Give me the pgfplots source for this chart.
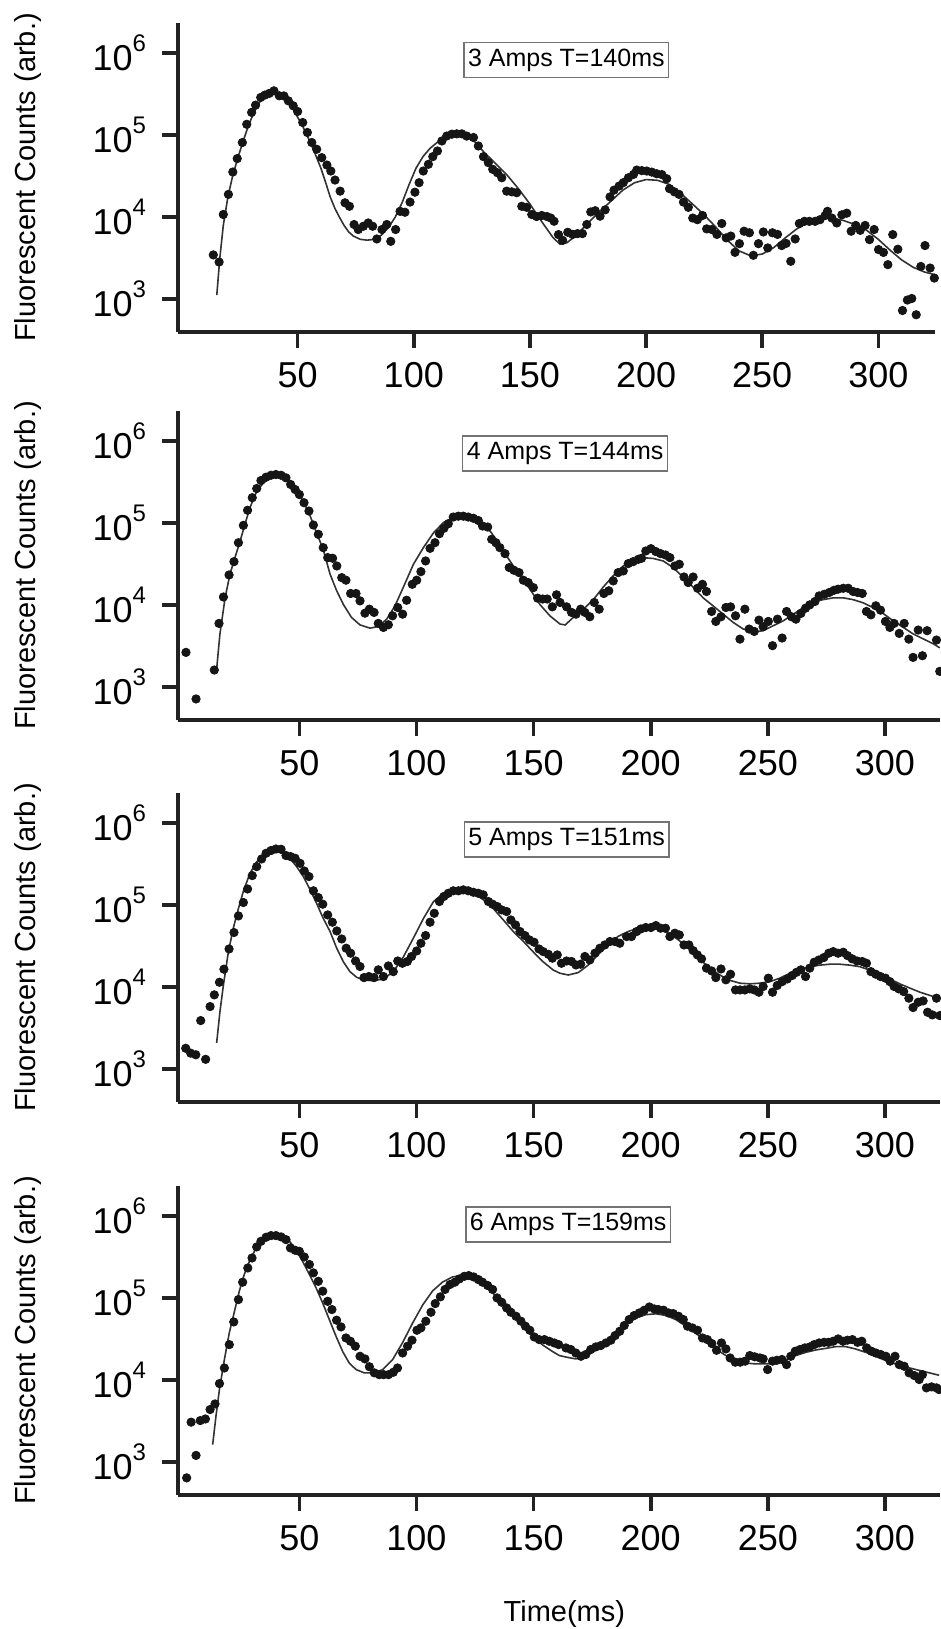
\documentclass[border=0pt]{standalone}
\usepackage{fontspec}
\setmainfont{Liberation Sans}
\usepackage{pgfplots}
\pgfplotsset{compat=1.18}

\definecolor{axcol}{HTML}{222222}
\definecolor{dotcol}{HTML}{151515}
\definecolor{fitcol}{HTML}{333333}
\newcommand{\tenp}[1]{10\raisebox{9.5pt}{\fontsize{12pt}{12pt}\selectfont #1}}

\begin{document}
\begin{tikzpicture}
\useasboundingbox (0,0) rectangle (470.5pt,-814.5pt);

% ---------------- Panel 1 ----------------
\begin{semilogyaxis}[scale only axis, height=154.5pt, ymin=398, ymax=2.34e6,
  axis x line*=bottom, axis y line*=left,
  axis line style={line width=2.2pt, draw=axcol},
  tick align=outside, major tick length=8pt,
  major tick style={line width=1.8pt, draw=axcol},
  minor tick style={draw=none},
  ytick={1e3,1e4,1e5,1e6},
  yticklabels={\tenp{3},\tenp{4},\tenp{5},\tenp{6}},
  xtick={50,100,150,200,250,300},
  xticklabels={50,100,150,200,250,300},
  tick label style={font=\fontsize{18pt}{18pt}\selectfont},
  yticklabel style={xshift=-4.5pt},
  xticklabel style={yshift=-3.6pt},
  ylabel={Fluorescent Counts (arb.)},
  ylabel style={at={(axis description cs:-0.1982,0.5)}, anchor=center, font=\fontsize{14.5pt}{14.5pt}\selectfont},
  clip=false,
  width=378.5pt, xmin=-1.5, xmax=324.4, at={(89pt,-166pt)}, anchor=south west]
\addplot[only marks, mark=*, mark size=2.1pt, color=dotcol] coordinates {
(13.7,3.47e3)(16.2,2.84e3)(18.0,1.08e4)(20.2,1.90e4)(22.1,3.56e4)(24.0,5.19e4)(26.2,8.15e4)(28.1,1.36e5)
(30.2,1.90e5)(31.9,2.33e5)(34.1,2.89e5)(35.9,3.09e5)(37.8,3.24e5)(39.8,3.48e5)(42.1,3.03e5)(44.1,3.02e5)
(46.0,2.63e5)(48.1,2.29e5)(50.0,1.95e5)(52.2,1.43e5)(54.2,1.08e5)(56.1,8.15e4)(58.2,6.75e4)(60.4,5.33e4)
(62.6,4.33e4)(64.3,3.66e4)(66.1,2.84e4)(68.3,2.08e4)(70.4,1.50e4)(72.3,1.36e4)(74.3,8.15e3)(76.1,7.08e3)
(78.3,7.76e3)(80.4,8.51e3)(82.3,7.76e3)(84.1,5.43e3)(86.3,7.08e3)(88.4,8.15e3)(90.1,5.08e3)(92.2,7.08e3)
(94.1,1.18e4)(96.2,1.15e4)(98.4,1.53e4)(100.5,2.02e4)(102.3,2.64e4)(104.1,3.66e4)(106.3,4.42e4)(108.2,5.48e4)
(110.2,6.43e4)(112.1,8.51e4)(114.2,9.79e4)(116.4,1.03e5)(118.5,1.04e5)(120.7,1.04e5)(122.8,9.77e4)(125.7,9.38e4)
(127.8,7.40e4)(130.0,5.48e4)(132.1,4.63e4)(134.0,3.84e4)(136.0,3.49e4)(137.9,3.03e4)(140.0,2.08e4)(142.2,2.04e4)
(144.3,1.99e4)(146.5,1.36e4)(148.6,1.32e4)(150.8,1.08e4)(152.9,1.02e4)(155.1,1.05e4)(157.3,1.02e4)(159.0,9.77e3)
(160.4,8.93e3)(162.3,6.14e3)(164.1,5.22e3)(166.3,6.55e3)(168.4,6.17e3)(170.5,6.31e3)(172.6,6.31e3)(174.5,8.15e3)
(176.2,1.16e4)(178.1,1.20e4)(180.2,1.03e4)(182.4,1.23e4)(184.5,1.77e4)(186.2,2.14e4)(188.4,2.40e4)(190.2,2.64e4)
(192.4,3.03e4)(194.6,3.33e4)(196.0,3.76e4)(198.2,3.70e4)(200.3,3.66e4)(202.5,3.55e4)(204.6,3.39e4)(206.8,3.31e4)
(208.9,2.95e4)(210.1,2.23e4)(212.2,2.04e4)(214.2,1.90e4)(216.1,1.53e4)(218.2,1.32e4)(220.1,9.77e3)(222.1,9.33e3)
(224.3,1.05e4)(226.1,7.21e3)(228.3,7.08e3)(230.5,6.17e3)(232.6,8.38e3)(234.5,5.60e3)(236.5,5.89e3)(238.3,3.73e3)
(240.2,4.76e3)(242.2,6.75e3)(244.5,6.46e3)(246.2,3.43e3)(248.4,4.76e3)(250.5,6.61e3)(252.4,4.22e3)(254.4,6.46e3)
(256.6,6.17e3)(258.4,4.51e3)(260.3,4.79e3)(262.3,2.90e3)(264.2,5.43e3)(266.0,8.38e3)(268.2,8.91e3)(270.3,8.91e3)
(272.8,8.91e3)(274.9,9.33e3)(277.1,1.05e4)(278.1,1.18e4)(280.0,9.77e3)(282.1,8.51e3)(284.3,1.07e4)(286.4,1.12e4)
(288.3,6.75e3)(290.3,7.94e3)(292.2,6.92e3)(294.3,7.94e3)(296.2,5.33e3)(298.2,7.08e3)(300.1,4.03e3)(302.2,3.72e3)
(304.1,2.64e3)(306.2,6.14e3)(308.4,4.07e3)(310.4,7.28e2)(312.5,9.77e2)(314.4,1.02e3)(316.3,6.46e2)(318.3,2.51e3)
(320.1,4.51e3)(322.3,2.40e3)(324.1,1.81e3)
};
\addplot[no marks, line width=0.8pt, color=fitcol] coordinates {
(15.2,1.12e3)(16.5,3.16e3)(18,7.94e3)(20,1.78e4)(22,3.16e4)(24,5.01e4)(26,7.59e4)(28,1.12e5)(30,1.58e5)
(32,2.09e5)(34,2.63e5)(36,3.02e5)(38,3.31e5)(40,3.39e5)(42,3.24e5)(44,2.88e5)(46,2.51e5)(48,2.09e5)
(50,1.66e5)(52,1.32e5)(54,1.00e5)(56,7.59e4)(58,5.50e4)(60,3.98e4)(62,2.69e4)(64,1.78e4)(66,1.29e4)
(68,1.00e4)(70,7.94e3)(72,6.61e3)(74,5.89e3)(77,5.37e3)(80,5.25e3)(83,5.37e3)(86,6.03e3)(89,7.41e3)
(92,1.00e4)(95,1.51e4)(98,2.51e4)(101,3.98e4)(104,5.50e4)(107,6.92e4)(110,8.13e4)(114,9.33e4)(118,1.00e5)
(122,9.77e4)(126,8.51e4)(130,6.31e4)(135,4.57e4)(140,3.31e4)(145,2.24e4)(150,1.45e4)(155,8.91e3)(160,5.62e3)
(163,4.68e3)(166,4.90e3)(170,6.03e3)(175,8.51e3)(180,1.17e4)(185,1.58e4)(190,2.14e4)(195,2.63e4)(200,2.88e4)
(205,2.82e4)(210,2.51e4)(215,1.95e4)(220,1.45e4)(225,1.07e4)(230,7.59e3)(235,5.25e3)(240,3.89e3)(245,3.39e3)
(250,3.55e3)(255,4.27e3)(260,5.62e3)(265,7.24e3)(270,8.71e3)(275,9.55e3)(280,9.77e3)(285,9.12e3)(290,8.13e3)
(295,6.92e3)(300,5.37e3)(305,3.98e3)(310,3.02e3)(315,2.45e3)(320,2.14e3)(324,2.00e3)
};
\node[draw=black!55, line width=0.7pt, fill=white, inner xsep=2pt, inner ysep=0pt, minimum height=17.5pt, font=\fontsize{12.5pt}{12.5pt}\selectfont] at (rel axis cs:0.513,0.880) {3 Amps T=140ms};
\end{semilogyaxis}

% ---------------- Panel 2 ----------------
\begin{semilogyaxis}[scale only axis, height=154.5pt, ymin=398, ymax=2.34e6,
  axis x line*=bottom, axis y line*=left,
  axis line style={line width=2.2pt, draw=axcol},
  tick align=outside, major tick length=8pt,
  major tick style={line width=1.8pt, draw=axcol},
  minor tick style={draw=none},
  ytick={1e3,1e4,1e5,1e6},
  yticklabels={\tenp{3},\tenp{4},\tenp{5},\tenp{6}},
  xtick={50,100,150,200,250,300},
  xticklabels={50,100,150,200,250,300},
  tick label style={font=\fontsize{18pt}{18pt}\selectfont},
  yticklabel style={xshift=-4.5pt},
  xticklabel style={yshift=-3.6pt},
  ylabel={Fluorescent Counts (arb.)},
  ylabel style={at={(axis description cs:-0.1969,0.5)}, anchor=center, font=\fontsize{14.5pt}{14.5pt}\selectfont},
  clip=false,
  width=381pt, xmin=-1.8, xmax=323.5, at={(89pt,-360pt)}, anchor=south west]
\addplot[only marks, mark=*, mark size=2.1pt, color=dotcol] coordinates {
(1.6,2.66e3)(5.9,7.19e2)(13.7,1.62e3)(15.7,6.00e3)(17.6,1.26e4)(20.0,2.34e4)(22.1,3.40e4)(24.0,5.79e4)
(26.1,9.42e4)(27.9,1.44e5)(29.9,2.05e5)(31.8,2.65e5)(33.6,3.32e5)(35.8,3.65e5)(37.9,3.85e5)(40.0,3.93e5)
(42.2,3.85e5)(44.3,3.58e5)(46.3,2.97e5)(48.2,2.58e5)(50.0,2.24e5)(52.0,1.78e5)(54.1,1.41e5)(56.0,9.51e4)
(58.1,7.33e4)(60.2,5.04e4)(62.1,3.81e4)(64.2,3.74e4)(66.0,3.01e4)(68.1,2.17e4)(69.9,2.02e4)(71.9,1.39e4)
(74.2,1.39e4)(75.9,1.13e4)(78.0,8.00e3)(79.9,8.95e3)(81.9,8.17e3)(83.7,6.00e3)(85.9,5.36e3)(88.0,5.78e3)
(89.8,7.43e3)(92.0,9.38e3)(94.1,7.78e3)(95.8,1.15e4)(98.2,1.80e4)(100.1,2.02e4)(101.9,2.57e4)(103.9,3.47e4)
(105.8,4.94e4)(107.9,5.79e4)(109.8,7.46e4)(111.7,8.67e4)(113.6,9.86e4)(115.7,1.19e5)(117.9,1.22e5)(120.0,1.22e5)
(122.1,1.19e5)(124.3,1.15e5)(126.4,1.08e5)(128.2,9.25e4)(130.4,8.99e4)(132.1,6.37e4)(133.9,5.79e4)(135.6,5.04e4)
(137.8,4.26e4)(139.6,2.88e4)(141.6,2.67e4)(143.8,2.50e4)(145.6,2.02e4)(147.7,1.89e4)(149.9,1.64e4)(151.7,1.22e4)
(153.9,1.19e4)(155.8,1.19e4)(158.0,9.55e3)(159.8,1.34e4)(161.3,1.08e4)(164.1,9.55e3)(166.2,8.17e3)(168.1,7.78e3)
(170.1,8.95e3)(171.9,8.17e3)(174.0,7.23e3)(175.9,1.08e4)(178.0,8.95e3)(180.0,1.39e4)(182.1,1.50e4)(184.0,1.98e4)
(186.1,2.50e4)(188.3,2.62e4)(190.4,3.22e4)(192.5,3.40e4)(194.7,3.63e4)(196.1,3.74e4)(197.9,4.59e4)(200.1,4.90e4)
(202.2,4.51e4)(204.2,4.26e4)(206.3,4.10e4)(208.2,3.81e4)(210.3,3.01e4)(212.2,3.16e4)(214.2,2.21e4)(216.0,1.89e4)
(218.1,2.21e4)(220.0,1.61e4)(222.1,1.80e4)(223.8,1.47e4)(226.0,8.39e3)(227.8,6.34e3)(230.0,7.23e3)(232.1,9.38e3)
(234.1,9.55e3)(236.2,7.43e3)(238.1,3.86e3)(240.2,8.95e3)(242.0,5.12e3)(244.2,4.79e3)(246.2,6.58e3)(248.0,5.46e3)
(250.2,6.34e3)(252.0,3.21e3)(254.1,6.76e3)(256.1,3.98e3)(258.0,8.39e3)(260.1,7.23e3)(262.0,6.76e3)(264.1,7.94e3)
(266.1,9.20e3)(267.9,1.01e4)(270.1,1.11e4)(271.9,1.30e4)(274.1,1.36e4)(276.2,1.43e4)(278.2,1.52e4)(280.0,1.57e4)
(282.2,1.61e4)(284.3,1.61e4)(286.4,1.47e4)(288.3,1.43e4)(290.3,1.39e4)(292.1,8.39e3)(294.0,7.64e3)(296.1,9.84e3)
(298.1,8.71e3)(300.2,6.34e3)(302.1,5.36e3)(303.9,6.00e3)(306.1,4.53e3)(308.2,6.00e3)(310.2,3.86e3)(312.0,2.31e3)
(314.2,4.98e3)(316.0,2.42e3)(318.0,4.89e3)(322.0,3.76e3)(323.4,1.56e3)
};
\addplot[no marks, line width=0.8pt, color=fitcol] coordinates {
(14.7,1.66e3)(16.1,4.47e3)(18.3,1.23e4)(20.4,2.40e4)(22.5,3.80e4)(24.7,6.03e4)(26.8,9.77e4)(28.9,1.55e5)
(31.8,2.45e5)(34.6,3.09e5)(37.5,3.55e5)(40.3,3.72e5)(43.2,3.55e5)(46.0,3.09e5)(48.9,2.45e5)(51.7,1.86e5)
(54.6,1.23e5)(57.4,7.59e4)(60.2,4.79e4)(63.1,2.40e4)(65.9,1.51e4)(68.8,1.02e4)(72.3,7.08e3)(75.9,5.75e3)
(80.2,5.25e3)(83.7,5.50e3)(87.3,6.76e3)(90.8,9.77e3)(94.4,1.66e4)(98.7,3.16e4)(102.9,5.01e4)(107.2,7.59e4)
(111.5,1.02e5)(115.7,1.17e5)(120.0,1.23e5)(124.3,1.17e5)(128.5,9.77e4)(132.1,7.59e4)(135.6,5.25e4)(139.9,3.47e4)
(144.2,2.29e4)(148.4,1.58e4)(152.7,1.02e4)(157.0,7.41e3)(161.3,5.89e3)(163.5,5.75e3)(166.9,7.08e3)(171.2,8.91e3)
(175.5,1.17e4)(179.7,1.66e4)(184.0,2.29e4)(188.3,3.02e4)(192.5,3.55e4)(196.8,3.80e4)(201.1,3.72e4)(205.3,3.47e4)
(209.6,2.88e4)(213.9,2.19e4)(218.1,1.66e4)(222.4,1.23e4)(226.7,9.77e3)(231.0,7.76e3)(235.2,6.17e3)(239.5,5.13e3)
(243.8,4.68e3)(248.0,4.90e3)(252.3,5.62e3)(256.6,6.46e3)(260.8,7.76e3)(265.1,9.33e3)(269.4,1.10e4)(273.6,1.17e4)
(277.9,1.23e4)(282.2,1.23e4)(286.4,1.17e4)(290.7,1.07e4)(295.0,9.33e3)(299.2,7.94e3)(303.5,6.46e3)(307.8,5.37e3)
(312.0,4.47e3)(316.3,3.89e3)(320.6,3.39e3)(323.4,3.02e3)
};
\node[draw=black!55, line width=0.7pt, fill=white, inner xsep=2pt, inner ysep=0pt, minimum height=17.5pt, font=\fontsize{12.5pt}{12.5pt}\selectfont] at (rel axis cs:0.508,0.862) {4 Amps T=144ms};
\end{semilogyaxis}

% ---------------- Panel 3 ----------------
\begin{semilogyaxis}[scale only axis, height=154.5pt, ymin=398, ymax=2.34e6,
  axis x line*=bottom, axis y line*=left,
  axis line style={line width=2.2pt, draw=axcol},
  tick align=outside, major tick length=8pt,
  major tick style={line width=1.8pt, draw=axcol},
  minor tick style={draw=none},
  ytick={1e3,1e4,1e5,1e6},
  yticklabels={\tenp{3},\tenp{4},\tenp{5},\tenp{6}},
  xtick={50,100,150,200,250,300},
  xticklabels={50,100,150,200,250,300},
  tick label style={font=\fontsize{18pt}{18pt}\selectfont},
  yticklabel style={xshift=-4.5pt},
  xticklabel style={yshift=-3.6pt},
  ylabel={Fluorescent Counts (arb.)},
  ylabel style={at={(axis description cs:-0.1969,0.5)}, anchor=center, font=\fontsize{14.5pt}{14.5pt}\selectfont},
  clip=false,
  width=381pt, xmin=-1.8, xmax=323.5, at={(89pt,-551pt)}, anchor=south west]
\addplot[only marks, mark=*, mark size=2.1pt, color=dotcol] coordinates {
(1.5,1.80e3)(3.6,1.57e3)(5.8,1.50e3)(7.9,3.92e3)(10.0,1.32e3)(11.9,5.81e3)(13.7,8.07e3)(15.9,1.15e4)
(17.8,1.66e4)(20.0,2.93e4)(22.1,4.65e4)(24.0,7.41e4)(26.1,1.08e5)(27.9,1.58e5)(29.9,2.30e5)(31.8,2.96e5)
(33.9,3.67e5)(35.8,4.31e5)(37.9,4.65e5)(40.0,4.86e5)(42.2,4.82e5)(44.3,4.04e5)(46.3,3.92e5)(48.2,3.74e5)
(50.3,3.25e5)(52.1,2.62e5)(54.1,2.24e5)(56.0,1.50e5)(58.1,1.24e5)(60.0,1.03e5)(62.1,7.62e4)(64.1,6.21e4)
(66.0,4.86e4)(68.1,3.88e4)(70.0,2.99e4)(71.9,2.60e4)(74.0,2.09e4)(75.9,1.79e4)(77.6,1.31e4)(79.7,1.35e4)
(81.9,1.31e4)(83.7,1.63e4)(85.9,1.35e4)(88.0,1.82e4)(90.1,1.55e4)(92.0,2.09e4)(94.0,1.96e4)(96.1,2.06e4)
(97.9,2.37e4)(100.1,2.77e4)(101.9,3.44e4)(103.9,4.27e4)(105.8,6.21e4)(107.6,7.98e4)(109.8,1.11e5)(111.7,1.28e5)
(113.6,1.40e5)(115.7,1.50e5)(117.9,1.50e5)(120.0,1.54e5)(122.1,1.50e5)(124.3,1.44e5)(126.4,1.40e5)(128.5,1.34e5)
(130.7,1.11e5)(132.5,1.03e5)(134.5,9.64e4)(136.4,8.77e4)(138.5,8.38e4)(140.3,6.62e4)(142.3,5.75e4)(144.2,4.78e4)
(146.3,4.27e4)(148.2,3.78e4)(150.2,3.54e4)(152.3,2.93e4)(154.1,2.72e4)(156.3,2.52e4)(158.0,2.26e4)(160.1,2.48e4)
(161.9,1.96e4)(164.1,2.09e4)(166.2,2.06e4)(168.1,1.87e4)(170.1,1.91e4)(171.9,2.37e4)(174.0,2.15e4)(176.2,2.60e4)
(178.3,2.99e4)(180.4,3.28e4)(182.6,3.61e4)(184.7,3.61e4)(186.8,3.44e4)(189.7,4.15e4)(191.8,4.15e4)(194.0,4.78e4)
(195.8,5.14e4)(197.9,5.35e4)(200.1,5.35e4)(202.2,5.65e4)(204.2,5.25e4)(206.3,5.25e4)(208.2,4.15e4)(210.3,4.56e4)
(212.2,4.35e4)(214.2,3.28e4)(216.3,3.28e4)(218.1,2.80e4)(219.9,2.48e4)(221.7,2.22e4)(223.8,1.71e4)(226.0,1.58e4)
(227.8,1.31e4)(230.0,1.67e4)(232.1,1.23e4)(234.1,1.44e4)(236.2,9.27e3)(238.1,9.27e3)(240.2,9.27e3)(242.3,9.55e3)
(244.2,9.27e3)(246.2,8.69e3)(248.0,1.02e4)(250.2,1.29e4)(252.0,8.69e3)(254.0,1.05e4)(256.1,1.17e4)(258.3,1.26e4)
(260.4,1.39e4)(262.2,1.52e4)(264.1,1.63e4)(266.1,1.35e4)(267.9,1.71e4)(269.8,2.02e4)(271.8,2.15e4)(273.9,2.30e4)
(276.0,2.60e4)(277.9,2.72e4)(280.0,2.60e4)(282.2,2.67e4)(284.0,2.43e4)(286.0,2.22e4)(288.1,2.09e4)(290.3,2.06e4)
(292.1,1.96e4)(294.0,1.55e4)(296.1,1.44e4)(298.1,1.35e4)(300.2,1.29e4)(302.1,1.17e4)(303.9,1.02e4)(305.9,9.55e3)
(308.0,8.85e3)(310.2,7.35e3)(312.0,5.65e3)(314.2,6.56e3)(316.3,6.81e3)(318.2,4.95e3)(320.2,4.60e3)(322.0,7.35e3)
(323.4,4.51e3)
};
\addplot[no marks, line width=0.8pt, color=fitcol] coordinates {
(14.7,2.09e3)(16.1,5.01e3)(17.6,1.07e4)(19.7,2.69e4)(21.8,5.25e4)(24.0,9.12e4)(26.1,1.48e5)(28.9,2.45e5)
(31.8,3.39e5)(34.6,4.07e5)(37.5,4.47e5)(40.3,4.57e5)(43.2,4.27e5)(46.0,3.72e5)(48.9,2.95e5)(51.7,2.24e5)
(54.6,1.55e5)(57.4,1.05e5)(60.2,6.92e4)(63.1,4.79e4)(65.9,3.02e4)(68.8,2.04e4)(71.6,1.55e4)(74.5,1.32e4)
(77.3,1.23e4)(81.6,1.20e4)(85.9,1.26e4)(90.1,1.55e4)(94.4,2.34e4)(98.7,3.98e4)(103.0,6.92e4)(107.2,1.10e5)
(111.5,1.41e5)(115.7,1.55e5)(120.0,1.55e5)(124.3,1.41e5)(128.5,1.17e5)(132.8,9.12e4)(137.1,6.61e4)(141.3,4.79e4)
(145.6,3.63e4)(149.9,2.69e4)(154.1,2.04e4)(158.4,1.62e4)(161.3,1.48e4)(164.8,1.41e4)(169.1,1.51e4)(173.3,1.86e4)
(177.6,2.51e4)(181.9,3.31e4)(186.1,4.17e4)(190.4,4.79e4)(194.7,5.25e4)(198.9,5.37e4)(203.2,5.13e4)(207.5,4.57e4)
(211.7,3.80e4)(216.0,3.02e4)(220.3,2.29e4)(224.5,1.78e4)(228.8,1.45e4)(233.1,1.23e4)(238.1,1.12e4)(242.3,1.10e4)
(246.6,1.12e4)(250.9,1.17e4)(255.1,1.29e4)(259.4,1.48e4)(263.7,1.66e4)(267.9,1.78e4)(272.2,1.86e4)(276.5,1.91e4)
(280.7,1.91e4)(285.0,1.86e4)(289.3,1.78e4)(293.5,1.62e4)(297.8,1.45e4)(302.1,1.26e4)(306.3,1.10e4)(310.6,9.77e3)
(314.9,8.71e3)(319.2,7.94e3)(323.4,7.24e3)
};
\node[draw=black!55, line width=0.7pt, fill=white, inner xsep=2pt, inner ysep=0pt, minimum height=17.5pt, font=\fontsize{12.5pt}{12.5pt}\selectfont] at (rel axis cs:0.510,0.850) {5 Amps T=151ms};
\end{semilogyaxis}

% ---------------- Panel 4 ----------------
\begin{semilogyaxis}[scale only axis, height=154.5pt, ymin=398, ymax=2.34e6,
  axis x line*=bottom, axis y line*=left,
  axis line style={line width=2.2pt, draw=axcol},
  tick align=outside, major tick length=8pt,
  major tick style={line width=1.8pt, draw=axcol},
  minor tick style={draw=none},
  ytick={1e3,1e4,1e5,1e6},
  yticklabels={\tenp{3},\tenp{4},\tenp{5},\tenp{6}},
  xtick={50,100,150,200,250,300},
  xticklabels={50,100,150,200,250,300},
  tick label style={font=\fontsize{18pt}{18pt}\selectfont},
  yticklabel style={xshift=-4.5pt},
  xticklabel style={yshift=-3.6pt},
  ylabel={Fluorescent Counts (arb.)},
  ylabel style={at={(axis description cs:-0.1969,0.5)}, anchor=center, font=\fontsize{14.5pt}{14.5pt}\selectfont},
  xlabel={Time(ms)},
  xlabel style={at={(axis description cs:0.507,0)}, anchor=center, yshift=-59.5pt, font=\fontsize{14.5pt}{14.5pt}\selectfont},
  clip=false,
  width=381pt, xmin=-1.8, xmax=323.5, at={(89pt,-747.5pt)}, anchor=south west]
\addplot[only marks, mark=*, mark size=2.1pt, color=dotcol] coordinates {
(1.9,6.44e2)(3.8,3.08e3)(5.9,1.21e3)(7.7,3.22e3)(9.9,3.37e3)(11.9,4.39e3)(14.0,5.14e3)(15.9,9.10e3)
(18.0,1.41e4)(20.1,2.72e4)(22.0,5.14e4)(24.0,9.64e4)(25.8,1.57e5)(28.0,2.34e5)(29.8,3.10e5)(31.8,4.23e5)
(33.6,4.95e5)(35.8,5.55e5)(37.9,5.81e5)(40.0,5.81e5)(42.2,5.60e5)(44.3,5.19e5)(46.2,4.11e5)(48.2,3.85e5)
(50.0,3.74e5)(52.1,3.19e5)(54.3,2.58e5)(56.0,2.04e5)(58.1,1.61e5)(60.0,1.22e5)(62.1,9.18e4)(63.9,7.28e4)
(65.9,5.40e4)(67.8,4.47e4)(69.9,3.28e4)(71.8,2.99e4)(73.9,2.60e4)(75.9,1.96e4)(78.0,1.82e4)(79.9,1.46e4)
(82.0,1.23e4)(84.1,1.17e4)(86.0,1.17e4)(88.1,1.17e4)(90.1,1.25e4)(91.9,1.41e4)(94.1,2.15e4)(96.2,2.60e4)
(98.1,3.08e4)(100.2,4.07e4)(101.9,4.35e4)(104.0,5.25e4)(106.2,6.75e4)(108.0,8.61e4)(110.2,1.04e5)(112.2,1.28e5)
(114.3,1.47e5)(116.4,1.57e5)(118.3,1.72e5)(120.4,1.85e5)(122.3,1.89e5)(124.4,1.82e5)(126.4,1.69e5)(128.2,1.57e5)
(130.4,1.43e5)(132.5,1.28e5)(134.4,1.01e5)(136.4,8.93e4)(138.5,7.62e4)(140.3,6.75e4)(142.5,6.03e4)(144.6,5.25e4)
(146.5,4.56e4)(148.4,4.07e4)(150.3,3.37e4)(152.4,3.13e4)(154.6,3.13e4)(156.7,2.99e4)(158.8,2.85e4)(160.7,2.72e4)
(163.8,2.48e4)(165.9,2.37e4)(168.0,2.15e4)(170.2,1.96e4)(172.3,2.06e4)(174.4,2.37e4)(176.6,2.55e4)(178.7,2.65e4)
(180.9,2.85e4)(183.0,3.08e4)(184.8,3.51e4)(186.8,3.96e4)(188.7,4.65e4)(190.8,5.50e4)(192.9,6.15e4)(195.1,6.62e4)
(197.2,7.14e4)(199.4,7.83e4)(201.5,7.41e4)(203.3,7.28e4)(205.5,7.14e4)(207.6,6.62e4)(209.6,6.50e4)(211.9,6.03e4)
(213.9,5.50e4)(215.7,4.56e4)(217.8,4.35e4)(220.0,4.07e4)(222.1,3.28e4)(224.2,3.13e4)(226.1,2.80e4)(228.1,2.32e4)
(230.2,2.85e4)(232.1,2.41e4)(233.9,1.87e4)(236.1,1.66e4)(238.2,1.66e4)(240.3,1.71e4)(242.3,2.00e4)(244.4,1.93e4)
(246.6,1.87e4)(248.0,1.82e4)(249.9,1.35e4)(252.0,1.71e4)(253.8,1.75e4)(256.0,1.79e4)(258.0,1.55e4)(259.8,1.96e4)
(261.7,2.26e4)(263.7,2.37e4)(265.8,2.48e4)(267.9,2.55e4)(269.8,2.72e4)(271.9,2.85e4)(274.0,2.90e4)(275.9,2.90e4)
(277.9,2.99e4)(280.0,3.19e4)(282.1,2.99e4)(284.0,3.08e4)(286.1,3.13e4)(288.3,2.90e4)(290.1,2.99e4)(292.2,2.48e4)
(294.2,2.26e4)(296.1,2.15e4)(298.2,2.06e4)(300.4,1.96e4)(302.2,1.71e4)(304.3,1.96e4)(306.1,1.55e4)(308.2,1.48e4)
(310.3,1.23e4)(312.5,1.14e4)(314.6,1.02e4)(316.0,1.17e4)(317.7,8.07e3)(319.9,8.30e3)(322.0,8.07e3)(323.1,7.69e3)
};
\addplot[no marks, line width=0.8pt, color=fitcol] coordinates {
(13.0,1.64e3)(14.4,3.63e3)(15.9,7.76e3)(18.0,1.78e4)(20.1,3.80e4)(22.3,6.92e4)(24.4,1.23e5)(26.5,1.95e5)
(28.7,2.82e5)(31.5,4.07e5)(34.4,5.25e5)(37.2,5.75e5)(40.0,6.03e5)(42.9,5.75e5)(45.7,5.01e5)(48.6,3.89e5)
(51.4,2.82e5)(54.3,1.95e5)(57.1,1.35e5)(60.0,8.71e4)(62.8,5.50e4)(65.6,3.47e4)(68.5,2.24e4)(71.3,1.62e4)
(74.2,1.35e4)(77.7,1.23e4)(82.0,1.23e4)(85.6,1.35e4)(89.8,1.78e4)(94.1,2.88e4)(98.4,5.01e4)(102.7,8.32e4)
(106.9,1.23e5)(111.2,1.58e5)(115.4,1.82e5)(119.7,1.91e5)(124.0,1.78e5)(128.2,1.48e5)(132.5,1.17e5)(136.8,8.71e4)
(141.0,6.46e4)(145.3,4.79e4)(149.6,3.47e4)(153.9,2.69e4)(158.1,2.24e4)(161.0,2.00e4)(164.5,1.90e4)(168.0,1.82e4)
(172.3,1.95e4)(176.6,2.34e4)(180.9,2.88e4)(185.1,3.80e4)(189.4,4.79e4)(193.7,5.75e4)(197.9,6.31e4)(202.2,6.46e4)
(206.5,6.17e4)(210.7,5.50e4)(215.0,4.57e4)(219.3,3.72e4)(223.5,3.02e4)(227.8,2.40e4)(232.1,2.00e4)(236.3,1.78e4)
(240.6,1.62e4)(244.9,1.58e4)(249.1,1.58e4)(253.4,1.62e4)(257.7,1.78e4)(262.0,2.00e4)(266.2,2.19e4)(270.5,2.34e4)
(274.8,2.45e4)(279.0,2.57e4)(283.3,2.57e4)(287.6,2.40e4)(291.8,2.19e4)(296.1,1.95e4)(300.4,1.74e4)(304.6,1.58e4)
(308.9,1.45e4)(313.2,1.35e4)(317.5,1.26e4)(323.1,1.15e4)
};
\node[draw=black!55, line width=0.7pt, fill=white, inner xsep=2pt, inner ysep=0pt, minimum height=17.5pt, font=\fontsize{12.5pt}{12.5pt}\selectfont] at (rel axis cs:0.512,0.876) {6 Amps T=159ms};
\end{semilogyaxis}
\end{tikzpicture}
\end{document}
